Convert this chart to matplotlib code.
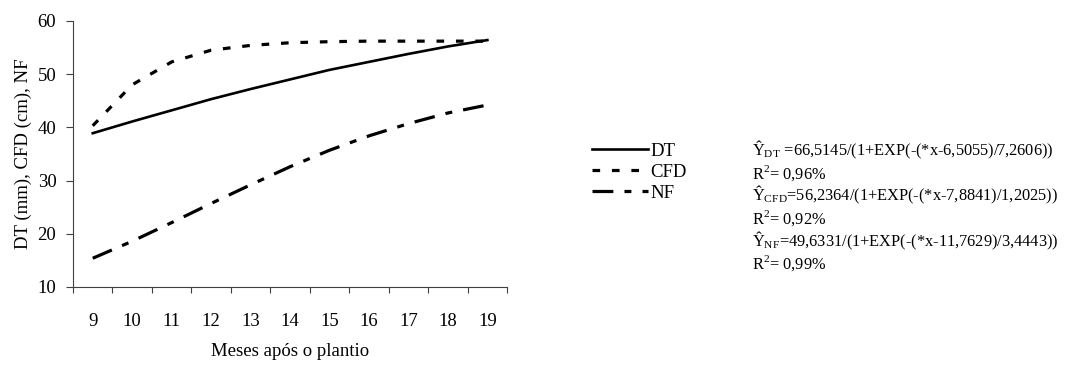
import numpy as np
import matplotlib.pyplot as plt

plt.rcParams['font.family'] = ['Liberation Serif', 'DejaVu Serif']
plt.rcParams['mathtext.fontset'] = 'custom'
plt.rcParams['mathtext.rm'] = 'Liberation Serif'
plt.rcParams['lines.scale_dashes'] = False

# dados
meses = ['9', '10', '11', '12', '13', '14', '15', '16', '17', '18', '19']
dt = [38.9, 41.1, 43.2, 45.3, 47.2, 49.0, 50.8, 52.3, 53.8, 55.2, 56.4]
cfd = [40.3, 48.0, 52.3, 54.5, 55.4, 55.9, 56.1, 56.2, 56.2, 56.2, 56.2]
nf = [15.4, 18.6, 22.1, 25.7, 29.2, 32.6, 35.7, 38.4, 40.7, 42.7, 44.2]

equacoes = [
    r'Ŷ$_{\mathrm{DT}}$ =66,5145/(1+EXP(-(*x-6,5055)/7,2606))',
    r'R$^{2}$= 0,96%',
    r'Ŷ$_{\mathrm{CFD}}$=56,2364/(1+EXP(-(*x-7,8841)/1,2025))',
    r'R$^{2}$= 0,92%',
    r'Ŷ$_{\mathrm{NF}}$=49,6331/(1+EXP(-(*x-11,7629)/3,4443))',
    r'R$^{2}$= 0,99%',
]

fig = plt.figure(figsize=(10.88, 3.67), dpi=100)
ax = fig.add_axes([0.0671, 0.218, 0.399, 0.725])

x = np.arange(len(meses))
ax.plot(x, dt, color='black', lw=1.9, label='DT')
ax.plot(x, cfd, color='black', lw=2.3, linestyle=(0, (5.5, 8.5)), label='CFD')
ax.plot(x, nf, color='black', lw=2.3, linestyle=(0, (15, 8, 5, 8)), label='NF')

ax.set_xlim(-0.5, len(meses) - 0.5)
ax.set_ylim(10, 60)
ax.set_yticks([10, 20, 30, 40, 50, 60])
ax.set_xticks(x)
ax.set_xticklabels(meses)
ax.set_xticks(np.arange(len(meses) + 1) - 0.5, minor=True)

for s in ['top', 'right']:
    ax.spines[s].set_visible(False)
for s in ['left', 'bottom']:
    ax.spines[s].set_color('#404040')
    ax.spines[s].set_linewidth(0.8)

ax.tick_params(axis='y', direction='out', length=5, width=0.8, color='#404040',
               labelsize=13.5, pad=7)
ax.tick_params(axis='x', which='major', length=0, labelsize=13.5, pad=19)
ax.tick_params(axis='x', which='minor', direction='out', length=4.5, width=0.8,
               color='#404040')

ax.set_ylabel('DT (mm), CFD (cm), NF', fontsize=13.5, labelpad=4)
ax.set_xlabel('Meses após o plantio', fontsize=13.5, labelpad=9)

fig.legend(loc='center left', bbox_to_anchor=(0.544, 0.531), frameon=False,
           fontsize=13.5, handlelength=3.0, handletextpad=0.1, labelspacing=0.2,
           borderpad=0, borderaxespad=0)

for i, txt in enumerate(equacoes):
    fig.text(0.691, 0.591 - i * 0.0616, txt, fontsize=11.8, va='center', ha='left')

fig.savefig('out.png', dpi=100)
